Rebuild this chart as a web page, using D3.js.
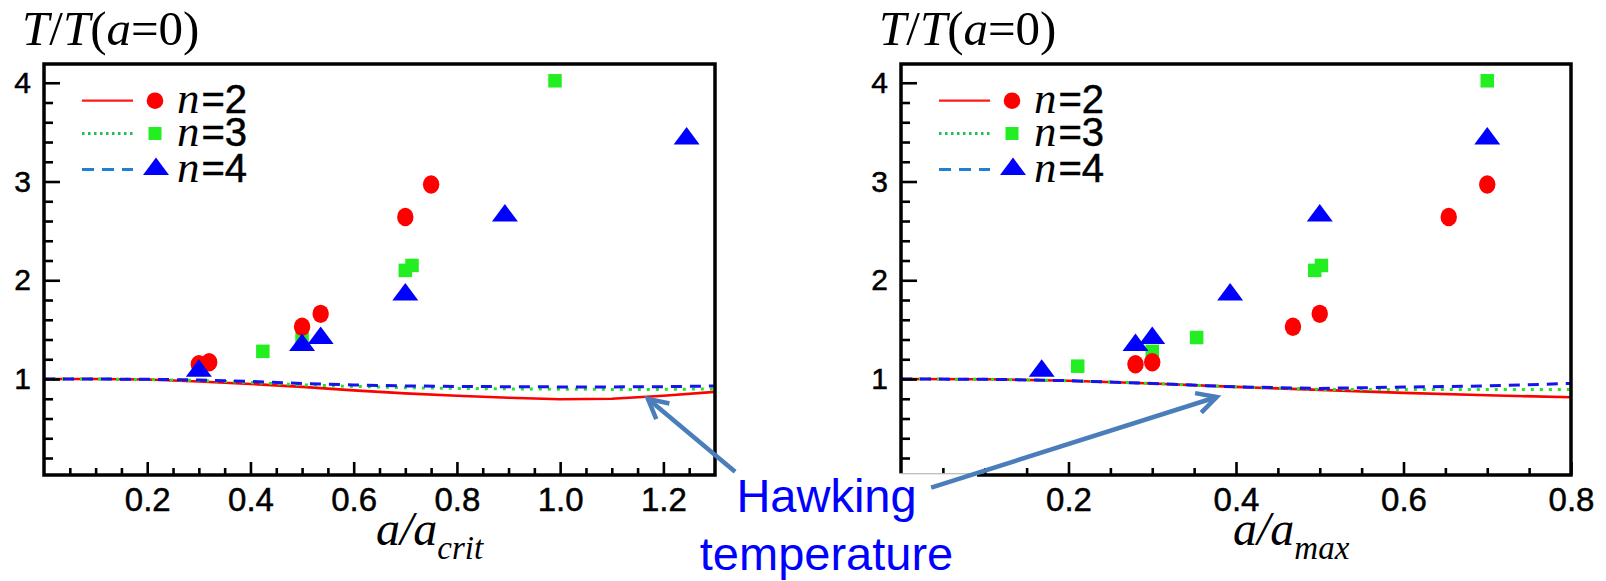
<!DOCTYPE html>
<html>
<head>
<meta charset="utf-8">
<script src="https://cdn.jsdelivr.net/npm/d3@7"></script>
<style>
  html, body { margin: 0; padding: 0; background: #fff; }
  svg { display: block; }
</style>
</head>
<body>
<svg id="chart" width="1606" height="581"></svg>
<script>
// ---------------- DATA ----------------
// Scatter points (same T/T(a=0) values, two different x normalisations)
const n2_y     = [1.15, 1.17, 1.53, 1.66, 2.64, 2.97];
const n2_xCrit = [0.30, 0.32, 0.50, 0.536, 0.70, 0.75];
const n2_xMax  = [0.28, 0.30, 0.468, 0.50, 0.654, 0.70];

const n3_y     = [1.13, 1.28, 1.42, 2.10, 2.15, 4.02];
const n3_xCrit = [0.30, 0.424, 0.50, 0.70, 0.713, 0.99];
const n3_xMax  = [0.211, 0.30, 0.353, 0.494, 0.502, 0.70];

const n4_y     = [1.11, 1.37, 1.44, 1.88, 2.68, 3.46];
const n4_xCrit = [0.30, 0.50, 0.536, 0.70, 0.893, 1.245];
const n4_xMax  = [0.168, 0.28, 0.30, 0.393, 0.50, 0.70];

// Hawking temperature curves
const critGrid   = [0, 0.1, 0.2, 0.3, 0.4, 0.5, 0.6, 0.7, 0.8, 0.9, 1.0, 1.1, 1.2, 1.3];
const critRed    = [1.0, 1.0, 0.995, 0.975, 0.95, 0.92, 0.885, 0.855, 0.83, 0.81, 0.795, 0.80, 0.83, 0.87];
const critGreen  = [1.0, 1.0, 0.995, 0.985, 0.965, 0.94, 0.925, 0.912, 0.905, 0.90, 0.897, 0.895, 0.895, 0.90];
const critBlue   = [1.0, 1.0, 0.997, 0.99, 0.975, 0.955, 0.94, 0.93, 0.925, 0.922, 0.92, 0.92, 0.922, 0.93];

const maxGrid    = [0, 0.1, 0.2, 0.3, 0.4, 0.5, 0.6, 0.7, 0.8];
const maxRed     = [1.0, 0.998, 0.983, 0.955, 0.92, 0.89, 0.86, 0.835, 0.815];
const maxGreen   = [1.0, 0.998, 0.983, 0.955, 0.92, 0.895, 0.893, 0.893, 0.895];
const maxBlue    = [1.0, 0.998, 0.983, 0.955, 0.92, 0.905, 0.918, 0.93, 0.955];

// Ticks
const yMajor = [1, 2, 3, 4];
const yMinor = [0.2, 0.4, 0.6, 0.8, 1.2, 1.4, 1.6, 1.8, 2.2, 2.4, 2.6, 2.8, 3.2, 3.4, 3.6, 3.8];
const xMajorCrit = [0.2, 0.4, 0.6, 0.8, 1.0, 1.2];
const xMinorCrit = [0.05, 0.1, 0.15, 0.25, 0.3, 0.35, 0.45, 0.5, 0.55, 0.65, 0.7, 0.75, 0.85, 0.9, 0.95, 1.05, 1.1, 1.15, 1.25];
const xMajorMax = [0.2, 0.4, 0.6, 0.8];
const xMinorMax = [0.05, 0.1, 0.15, 0.25, 0.3, 0.35, 0.45, 0.5, 0.55, 0.65, 0.7, 0.75];

const legendLabels = ["2", "3", "4"];

// ---------------- DRAW ----------------
const svg = d3.select("#chart");
const yDomain = [0.028, 4.19];
const plotTop = 64, plotBottom = 475;

const C = {
  red: "#ff0000", greenCurve: "#22e622", blueCurve: "#1414f0",
  greenMk: "#22ee22", blueMk: "#0000ff",
  legRed: "#ff1a1a", legGreen: "#1fbf55", legBlue: "#1f7fd0",
  arrow: "#4a7ebb"
};
const sans = "'Liberation Sans', Arial, sans-serif";
const serif = "'Liberation Serif', 'Times New Roman', serif";

const tri = (cx, cy) => `M${cx - 13},${cy + 8.5}L${cx + 13},${cy + 8.5}L${cx},${cy - 9}Z`;

function panel(cfg) {
  const x = d3.scaleLinear().domain(cfg.xDomain).range([cfg.x0, cfg.x1]);
  const y = d3.scaleLinear().domain(yDomain).range([plotBottom, plotTop]);
  const g = svg.append("g");

  // curves
  const line = d3.line().x(d => x(d[0])).y(d => y(d[1]));
  const curves = [
    { v: cfg.red, color: C.red, dash: null, w: 2.6 },
    { v: cfg.green, color: C.greenCurve, dash: "3,6", w: 3 },
    { v: cfg.blue, color: C.blueCurve, dash: "11,8", w: 3 }
  ];
  curves.forEach(c => {
    g.append("path")
      .datum(cfg.grid.map((gx, i) => [gx, c.v[i]]))
      .attr("d", line)
      .attr("fill", "none")
      .attr("stroke", c.color)
      .attr("stroke-width", c.w)
      .attr("stroke-dasharray", c.dash);
  });

  // markers: squares, circles, triangles
  const sq = 13.5;
  g.selectAll(".sq").data(cfg.n3x.map((v, i) => [v, n3_y[i]])).join("rect")
    .attr("x", d => x(d[0]) - sq / 2).attr("y", d => y(d[1]) - sq / 2)
    .attr("width", sq).attr("height", sq).attr("fill", C.greenMk);
  g.selectAll(".ci").data(cfg.n2x.map((v, i) => [v, n2_y[i]])).join("ellipse")
    .attr("cx", d => x(d[0])).attr("cy", d => y(d[1]))
    .attr("rx", 8.2).attr("ry", 9.2).attr("fill", C.red);
  g.selectAll(".tr").data(cfg.n4x.map((v, i) => [v, n4_y[i]])).join("path")
    .attr("d", d => tri(x(d[0]), y(d[1]))).attr("fill", C.blueMk);

  // axes (ticks inward)
  const yAx = g.append("g").attr("transform", `translate(${cfg.x0},0)`)
    .call(d3.axisLeft(y).tickValues(yMajor).tickSizeInner(-16).tickSizeOuter(0).tickPadding(13).tickFormat(d3.format("d")));
  const yAxm = g.append("g").attr("transform", `translate(${cfg.x0},0)`)
    .call(d3.axisLeft(y).tickValues(yMinor).tickSizeInner(-9).tickSizeOuter(0).tickFormat(""));
  const xAx = g.append("g").attr("transform", `translate(0,${plotBottom})`)
    .call(d3.axisBottom(x).tickValues(cfg.xMajor).tickSizeInner(-13).tickSizeOuter(0).tickPadding(13).tickFormat(d3.format(".1f")));
  const xAxm = g.append("g").attr("transform", `translate(0,${plotBottom})`)
    .call(d3.axisBottom(x).tickValues(cfg.xMinor).tickSizeInner(-7).tickSizeOuter(0).tickFormat(""));
  [yAx, yAxm, xAx, xAxm].forEach(a => {
    a.select(".domain").remove();
    a.selectAll("line").attr("stroke", "#000").attr("stroke-width", 2.6);
    a.selectAll("text").attr("fill", "#000").attr("font-family", sans)
      .attr("stroke", "#000").attr("stroke-width", 0.5);
  });
  yAx.selectAll("text").attr("font-size", 30);
  xAx.selectAll("text").attr("font-size", 33);

  // frame
  g.append("rect").attr("x", cfg.x0).attr("y", plotTop)
    .attr("width", cfg.x1 - cfg.x0).attr("height", plotBottom - plotTop)
    .attr("fill", "none").attr("stroke", "#000").attr("stroke-width", 3.5);

  // y title T/T(a=0)
  const t = g.append("text").attr("x", cfg.x0 - 22).attr("y", 45)
    .attr("font-family", serif).attr("font-size", 49).attr("fill", "#000");
  t.append("tspan").attr("font-style", "italic").text("T");
  t.append("tspan").text("/");
  t.append("tspan").attr("font-style", "italic").text("T");
  t.append("tspan").text("(");
  t.append("tspan").attr("font-style", "italic").text("a");
  t.append("tspan").text("=0)");

  // x title
  const xt = g.append("text").attr("x", cfg.xTitleX).attr("y", 545)
    .attr("font-family", serif).attr("font-style", "italic")
    .attr("font-size", 48).attr("fill", "#000");
  xt.append("tspan").text("a/a");
  xt.append("tspan").attr("font-size", 33).attr("dy", 14).text(cfg.sub);

  // legend
  const legX = cfg.x0;
  const rows = [
    { y: 100.7, color: C.legRed, dash: null, mk: "circle" },
    { y: 133.5, color: C.legGreen, dash: "2.5,3.5", mk: "square" },
    { y: 169.5, color: C.legBlue, dash: "12,8", mk: "triangle" }
  ];
  rows.forEach((r, i) => {
    g.append("line").attr("x1", legX + 38).attr("x2", legX + 89)
      .attr("y1", r.y).attr("y2", r.y)
      .attr("stroke", r.color).attr("stroke-width", r.mk === "circle" ? 2.2 : 3)
      .attr("stroke-dasharray", r.dash);
    const mx = legX + 111;
    if (r.mk === "circle") {
      g.append("circle").attr("cx", mx).attr("cy", r.y).attr("r", 8.3).attr("fill", C.red);
    } else if (r.mk === "square") {
      g.append("rect").attr("x", mx - 6.5).attr("y", r.y - 6.5).attr("width", 13).attr("height", 13).attr("fill", C.greenMk);
    } else {
      g.append("path").attr("d", tri(mx + 1, r.y - 3)).attr("fill", C.blueMk);
    }
    const lt = g.append("text").attr("x", legX + 133).attr("y", r.y + 12.5).attr("fill", "#000");
    lt.append("tspan").attr("font-family", serif).attr("font-style", "italic").attr("font-size", 45).text("n");
    lt.append("tspan").attr("font-family", sans).attr("font-size", 40).attr("dx", 2)
      .attr("stroke", "#000").attr("stroke-width", 0.5).text("=" + legendLabels[i]);
  });

  return { x, y, g };
}

const L = panel({
  x0: 44, x1: 715, xDomain: [0, 1.3], grid: critGrid,
  red: critRed, green: critGreen, blue: critBlue,
  n2x: n2_xCrit, n3x: n3_xCrit, n4x: n4_xCrit,
  xMajor: xMajorCrit, xMinor: xMinorCrit, xTitleX: 376, sub: "crit"
});
const R = panel({
  x0: 901, x1: 1571, xDomain: [0, 0.8], grid: maxGrid,
  red: maxRed, green: maxGreen, blue: maxBlue,
  n2x: n2_xMax, n3x: n3_xMax, n4x: n4_xMax,
  xMajor: xMajorMax, xMinor: xMinorMax, xTitleX: 1233, sub: "max"
});

// annotation text box (covers part of right axis)
svg.append("rect").attr("x", 722).attr("y", 473.4).attr("width", 255).attr("height", 108).attr("fill", "#fff");
svg.append("line").attr("x1", 901).attr("x2", 977).attr("y1", 474).attr("y2", 474)
  .attr("stroke", "#cfcfcf").attr("stroke-width", 1.2);

const ht = svg.append("text").attr("text-anchor", "middle")
  .attr("font-family", sans).attr("font-size", 47).attr("fill", "#0000ff");
ht.append("tspan").attr("x", 826.5).attr("y", 512).text("Hawking");
ht.append("tspan").attr("x", 826.5).attr("y", 570).text("temperature");

// arrows (endpoints in each panel's data coordinates)
const arrows = [
  { s: L, tail: [1.339, 0.06], tip: [1.17, 0.80] },
  { s: R, tail: [0.036, -0.10], tip: [0.377, 0.818] }
];
arrows.forEach(a => {
  const x1 = a.s.x(a.tail[0]), y1 = a.s.y(a.tail[1]);
  const x2 = a.s.x(a.tip[0]), y2 = a.s.y(a.tip[1]);
  const ang = Math.atan2(y2 - y1, x2 - x1);
  const len = 22, spread = Math.PI / 6.5;
  const p1 = [x2 - len * Math.cos(ang - spread), y2 - len * Math.sin(ang - spread)];
  const p2 = [x2 - len * Math.cos(ang + spread), y2 - len * Math.sin(ang + spread)];
  svg.append("line").attr("x1", x1).attr("y1", y1).attr("x2", x2).attr("y2", y2)
    .attr("stroke", C.arrow).attr("stroke-width", 4.5);
  svg.append("path").attr("d", `M${p1[0]},${p1[1]}L${x2},${y2}L${p2[0]},${p2[1]}`)
    .attr("fill", "none").attr("stroke", C.arrow).attr("stroke-width", 4.5)
    .attr("stroke-linejoin", "miter").attr("stroke-linecap", "butt");
});
</script>
</body>
</html>
